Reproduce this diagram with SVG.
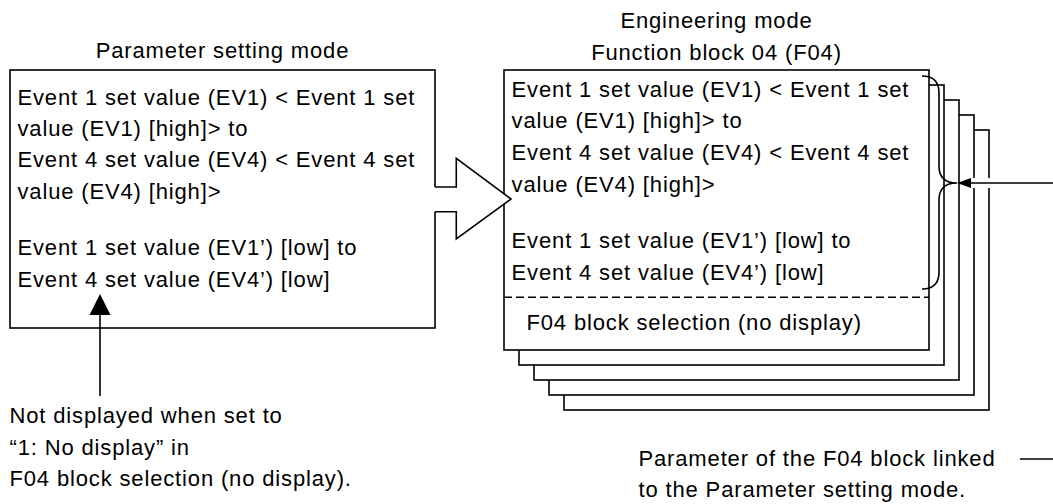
<svg xmlns="http://www.w3.org/2000/svg" width="1053" height="504" viewBox="0 0 1053 504">
<style>
text { font-family: "Liberation Sans", Arial, sans-serif; font-size: 22px; letter-spacing: 0.85px; fill: #000; }
.box { fill: #fff; stroke: #000; stroke-width: 1.6; }
.ln { fill: none; stroke: #000; stroke-width: 1.6; }
.mid { text-anchor: middle; }
</style>
<rect width="1053" height="504" fill="#fff"/>

<g id="param-mode">
<text class="mid" x="222.5" y="57.7">Parameter setting mode</text>
<rect class="box" x="10" y="70" width="425" height="258"/>
<text x="17.5" y="105">Event 1 set value (EV1) &lt; Event 1 set</text>
<text x="17.5" y="136.2">value (EV1) [high]&gt; to</text>
<text x="17.5" y="167.3">Event 4 set value (EV4) &lt; Event 4 set</text>
<text x="17.5" y="198.5">value (EV4) [high]&gt;</text>
<text x="17.5" y="254.5">Event 1 set value (EV1’) [low] to</text>
<text x="17.5" y="286.5">Event 4 set value (EV4’) [low]</text>
</g>

<g id="engineering-mode">
<text class="mid" x="716.5" y="28">Engineering mode</text>
<text class="mid" x="716.5" y="60">Function block 04 (F04)</text>
<rect class="box" x="564" y="130" width="425" height="280"/>
<rect class="box" x="549" y="115" width="425" height="280"/>
<rect class="box" x="534" y="100" width="425" height="280"/>
<rect class="box" x="519" y="85" width="425" height="280"/>
<rect class="box" x="504" y="70" width="425" height="280"/>
<line class="ln" x1="504" y1="297.3" x2="929" y2="297.3" stroke-dasharray="8,4"/>
<text x="511.6" y="96.7">Event 1 set value (EV1) &lt; Event 1 set</text>
<text x="511.6" y="128.3">value (EV1) [high]&gt; to</text>
<text x="511.6" y="159.5">Event 4 set value (EV4) &lt; Event 4 set</text>
<text x="511.6" y="191.5">value (EV4) [high]&gt;</text>
<text x="511.6" y="248.3">Event 1 set value (EV1’) [low] to</text>
<text x="511.6" y="279.5">Event 4 set value (EV4’) [low]</text>
<text x="526.5" y="330">F04 block selection (no display)</text>
</g>

<g id="note-left">
<text x="9.5" y="423.3">Not displayed when set to</text>
<text x="9.5" y="454.5">“1: No display” in</text>
<text x="9.5" y="486">F04 block selection (no display).</text>
</g>

<g id="note-right">
<text x="638.5" y="466">Parameter of the F04 block linked</text>
<text x="638.5" y="497">to the Parameter setting mode.</text>
</g>

<g id="connectors">
<!-- hollow transfer arrow -->
<path d="M434,187 L456.3,187 L456.3,158.3 L511,199 L456.3,239 L456.3,211.7 L434,211.7 Z" fill="#fff" stroke="none"/>
<path class="ln" d="M435,187 L456.3,187 L456.3,158.3 L511,199 L456.3,239 L456.3,211.7 L435,211.7"/>
<!-- brace -->
<path class="ln" d="M922,76 Q939,76 939,93 L939,166 Q939,183 957,183 Q939,183 939,200 L939,272 Q939,289 922,289"/>
<!-- pointer arrow to brace -->
<line x1="972" y1="183" x2="1053" y2="183" stroke="#fff" stroke-width="10"/>
<line class="ln" x1="1053" y1="183" x2="969" y2="183"/>
<path d="M957,183 L971,178 L971,188 Z" fill="#000"/>
<!-- up arrow -->
<line class="ln" x1="100" y1="396" x2="100" y2="315"/>
<path d="M100,294 L110.5,315 L89.5,315 Z" fill="#000"/>
<!-- legend line -->
<line class="ln" x1="1020" y1="459" x2="1053" y2="459"/>
</g>
</svg>
